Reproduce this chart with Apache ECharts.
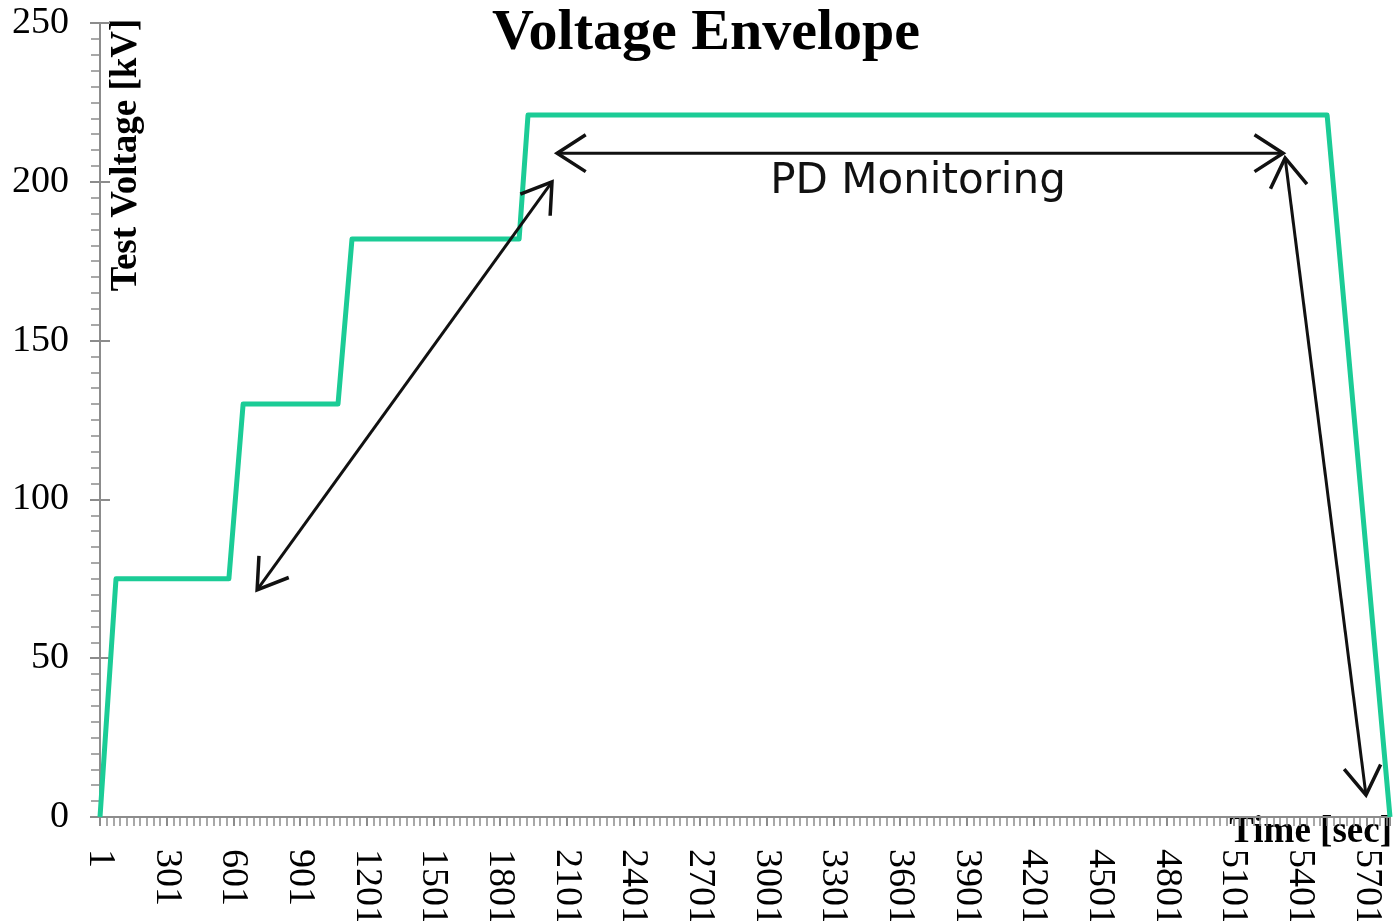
<!DOCTYPE html>
<html>
<head>
<meta charset="utf-8">
<script src="https://cdn.jsdelivr.net/npm/echarts@6/dist/echarts.min.js"></script>
<style>
  html, body { margin: 0; padding: 0; background: #fff; }
  #chart { width: 1394px; height: 921px; }
</style>
</head>
<body>
<div id="chart"></div>
<script>
// time is counted from 0, the axis labels show sample number (time + 1)
const timeSec = [0, 72, 580, 644, 1071, 1134, 1886, 1926, 5522, 5805]
const voltageKv = [0, 75, 75, 130, 130, 182, 182, 221, 221, 0]

// double headed arrows: [t1, v1, t2, v2]
const arrowFrom = [[707, 71.5], [2057, 209], [5333, 207.5]]
const arrowTo = [[2034, 200], [5324, 209], [5697, 6.9]]

const serif = '"Liberation Serif", "Times New Roman", serif'
const axisGray = '#8c8c8c'
const lineColor = '#1bcc96'

let chart = echarts.init(document.getElementById('chart'))

let lineData = timeSec.map((t, i) => [t, voltageKv[i]])
let arrowData = arrowFrom.map((a, i) => [a[0], a[1], arrowTo[i][0], arrowTo[i][1]])

function chevron(tip, back) {
  // open arrow head at tip, pointing away from back
  let dx = back[0] - tip[0]
  let dy = back[1] - tip[1]
  let len = Math.sqrt(dx * dx + dy * dy)
  dx /= len
  dy /= len
  let arm = 34
  let ang = Math.PI / 5.5
  let p1 = [tip[0] + arm * (dx * Math.cos(ang) - dy * Math.sin(ang)), tip[1] + arm * (dx * Math.sin(ang) + dy * Math.cos(ang))]
  let p2 = [tip[0] + arm * (dx * Math.cos(-ang) - dy * Math.sin(-ang)), tip[1] + arm * (dx * Math.sin(-ang) + dy * Math.cos(-ang))]
  return {
    type: 'polyline',
    shape: { points: [p1, tip, p2] },
    style: { stroke: '#111', lineWidth: 3.5, fill: null, lineJoin: 'miter' },
  }
}

let option = {
  animation: false,
  title: {
    text: 'Voltage Envelope',
    left: 701,
    textAlign: 'center',
    top: 0,
    textStyle: { fontFamily: serif, fontWeight: 'bold', fontSize: 58, color: '#000' },
  },
  grid: { left: 100, right: 4, top: 23, bottom: 104, containLabel: false, outerBoundsMode: 'none' },
  xAxis: {
    type: 'value',
    min: 0,
    max: 5805,
    interval: 300,
    axisLine: { lineStyle: { color: axisGray, width: 2 } },
    axisTick: { show: true, length: 9, lineStyle: { color: axisGray, width: 2 } },
    minorTick: { show: true, splitNumber: 10, length: 9, lineStyle: { color: axisGray, width: 1.5 } },
    splitLine: { show: false },
    axisLabel: {
      rotate: -90,
      margin: 32,
      showMaxLabel: false,
      color: '#000',
      fontFamily: serif,
      fontSize: 38,
      formatter: (v) => String(v + 1),
    },
  },
  yAxis: [
    {
      type: 'value',
      min: 0,
      max: 250,
      interval: 50,
      axisLine: { show: true, lineStyle: { color: axisGray, width: 2 } },
      axisTick: { show: true, length: 10, lineStyle: { color: axisGray, width: 2 } },
      minorTick: { show: true, splitNumber: 10, length: 9, lineStyle: { color: axisGray, width: 1.5 } },
      splitLine: { show: false },
      axisLabel: { margin: 31, color: '#000', fontFamily: serif, fontSize: 38 },
    },
    {
      // inside half of the major ticks
      type: 'value',
      position: 'left',
      min: 0,
      max: 250,
      interval: 50,
      axisLine: { show: false },
      axisTick: { show: true, inside: true, length: 10, lineStyle: { color: axisGray, width: 2 } },
      axisLabel: { show: false },
      splitLine: { show: false },
    },
  ],
  graphic: [
    {
      type: 'text',
      x: 126,
      y: 155,
      rotation: Math.PI / 2,
      style: {
        text: 'Test Voltage [kV]',
        fontFamily: serif,
        fontWeight: 'bold',
        fontSize: 37,
        fill: '#000',
        textAlign: 'center',
        textVerticalAlign: 'middle',
      },
    },
    {
      type: 'text',
      right: 2,
      top: 814,
      style: { text: 'Time [sec]', fontFamily: serif, fontWeight: 'bold', fontSize: 37, fill: '#000' },
    },
    {
      type: 'text',
      x: 918,
      y: 182,
      style: {
        text: 'PD Monitoring',
        fontFamily: '"DejaVu Sans", sans-serif',
        fontSize: 42,
        fill: '#111',
        textAlign: 'center',
        textVerticalAlign: 'middle',
      },
    },
  ],
  series: [
    {
      type: 'line',
      data: lineData,
      showSymbol: false,
      clip: false,
      lineStyle: { color: lineColor, width: 5, join: 'round' },
      z: 3,
    },
    {
      type: 'custom',
      data: arrowData,
      encode: { x: [0, 2], y: [1, 3] },
      clip: false,
      z: 4,
      renderItem: function (params, api) {
        let a = api.coord([api.value(0), api.value(1)])
        let b = api.coord([api.value(2), api.value(3)])
        return {
          type: 'group',
          children: [
            {
              type: 'line',
              shape: { x1: a[0], y1: a[1], x2: b[0], y2: b[1] },
              style: { stroke: '#111', lineWidth: 3 },
            },
            chevron(a, b),
            chevron(b, a),
          ],
        }
      },
    },
  ],
}

chart.setOption(option)
</script>
</body>
</html>
